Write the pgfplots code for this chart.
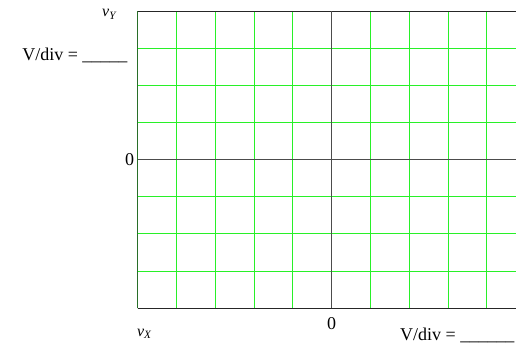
\documentclass[border=0pt]{standalone}
\usepackage{fontspec}
\setmainfont{Liberation Serif}
\usepackage{pgfplots}
\pgfplotsset{compat=1.18}
\definecolor{gridgreen}{RGB}{40,240,40}
\definecolor{edgegreen}{RGB}{40,110,40}
\newcommand{\lbl}{\fontsize{18}{21}\selectfont}
\begin{document}
\begin{tikzpicture}[font=\lbl]
\useasboundingbox (0,0) rectangle (516pt,345pt);
\clip (0,0) rectangle (516pt,345pt);
\begin{pgfinterruptboundingbox}
\begin{axis}[
    at={(137.7pt,36.7pt)}, anchor=south west,
    scale only axis,
    width=388pt, height=297.3pt,
    xmin=-5, xmax=5, ymin=-4, ymax=4,
    xtick={-5,...,5}, ytick={-4,...,4},
    xticklabels={{},{},{},{},{},{},{},{},{},{},{}},
    yticklabels={{},{},{},{},{},{},{},{},{}},
    major tick length=0pt,
    grid=major,
    grid style={gridgreen, line width=1pt},
    extra x ticks={0}, extra y ticks={0},
    extra x tick labels={0}, extra y tick labels={0},
    extra tick style={grid style={gray!60!black, line width=1pt}, major tick length=0pt},
    tick label style={font=\lbl},
    xticklabel style={yshift=-5.5pt},
    separate axis lines,
    x axis line style={black!85, line width=1pt},
    y axis line style={edgegreen, line width=1.2pt},
    clip=false,
]
\node[anchor=base west, inner sep=0pt, font=\lbl] at (axis cs:-7.98,2.655) {V/div = \_\_\_\_\_};
\node[anchor=base west, inner sep=0pt, font=\lbl] at (axis cs:1.76,-4.867) {V/div = \_\_\_\_\_\_};
\node[anchor=base west, inner sep=0pt, font=\fontsize{16}{18}\selectfont] at (axis cs:-5.92,3.85) {\textit{v}\textsubscript{\textit{Y}}};
\node[anchor=base west, inner sep=0pt, font=\fontsize{16}{18}\selectfont] at (axis cs:-5.02,-4.746) {\textit{v}\textsubscript{\textit{X}}};
\end{axis}
\end{pgfinterruptboundingbox}
\end{tikzpicture}
\end{document}
